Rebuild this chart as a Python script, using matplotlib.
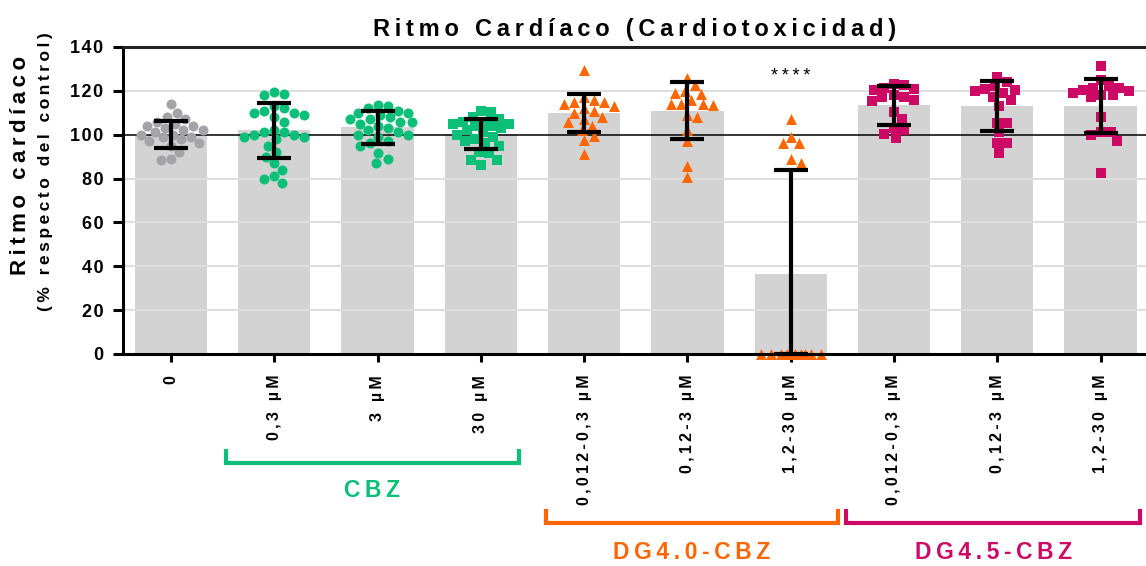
import numpy as np
import matplotlib
matplotlib.use("Agg")
import matplotlib.pyplot as plt
from matplotlib import transforms

plt.rcParams['font.family'] = ['Liberation Sans', 'DejaVu Sans']
plt.rcParams['font.weight'] = 'bold'

# categories and tick labels
labels = ['0', '0,3 µM', '3 µM', '30 µM',
          '0,012-0,3 µM', '0,12-3 µM', '1,2-30 µM',
          '0,012-0,3 µM', '0,12-3 µM', '1,2-30 µM']

# bar = mean, err = SD (% of control)
means = [100, 102, 103.4, 100.5, 110, 111, 36.5, 113.5, 113, 113]
sds = [6.2, 12.5, 7.6, 6.8, 8.7, 13, 47.3, 8.9, 11.5, 12.2]

# individual embryos per condition
pts = [
    [114, 110, 108, 107, 106, 105, 104, 104, 103, 102, 102, 101, 100, 100,
     99, 99, 98, 97, 96, 95, 92, 89, 88.5],
    [119.5, 118.5, 118, 113, 112, 111, 110, 110, 109, 108, 106, 102, 101,
     101, 100, 100, 99, 99, 98, 95, 92, 90, 87, 84, 81, 80, 78],
    [113.5, 113, 112, 111, 110, 110, 109, 108, 107, 107, 106, 106, 105, 104,
     103, 102, 101, 100, 100, 99, 97, 96, 95, 91.5, 89, 87],
    [111, 110.5, 108, 107, 106, 106, 105, 105, 104, 104, 103, 102, 101, 100,
     99, 98, 97, 96, 95, 92, 91.5, 88.5, 88.5, 86],
    [129.5, 117, 116, 115, 115, 114, 113, 112, 111, 110, 108, 107, 106, 104,
     102, 99.5, 97.5, 91],
    [126, 122.5, 120, 119, 118.5, 116, 114, 114, 114, 113.5, 109, 108, 102,
     97, 85.5, 80.5],
    [107, 99, 96, 96, 89, 87, 0, 0, 0, 0, 0, 0, 0, 0, 0, 0],
    [123, 122.5, 121.5, 121, 120.5, 118, 117, 117, 116, 115.5, 110.5, 107,
     103, 102, 100.5, 98.5],
    [126.5, 124, 122, 121, 120.5, 120, 119, 117, 116, 113, 105.5, 105.5, 101,
     96, 96, 91.5],
    [131.5, 125, 122, 121.5, 121.5, 120.5, 120, 119, 118, 118, 117, 108, 101,
     101, 100, 97, 82.5],
]

gray, green, orange, pink = '#a3a3a8', '#0cbf78', '#ff6600', '#cc0a66'
colors = [gray, green, green, green, orange, orange, orange, pink, pink, pink]
markers = ['o', 'o', 'o', 's', '^', '^', '^', 's', 's', 's']

# compound groups: name, first and last category, colour
groups = [('CBZ', 1, 3, green), ('DG4.0-CBZ', 4, 6, orange),
          ('DG4.5-CBZ', 7, 9, pink)]
# bracket overhang (left, right) and heights in figure units
bracket_pad = [(0.47, 0.37), (0.37, 0.46), (0.46, 0.38)]
bracket_y = [0.182, 0.076, 0.076]
name_y = [0.134, 0.023, 0.023]

THIN = '\u2009'
HAIR = '\u200a'


def spaced(s, gap=THIN):
    return gap.join(s)


def swarm(ys, ax, d_px, limit_px):
    # simple beeswarm in pixel space
    to_px = ax.transData.transform
    ypx = to_px(np.column_stack([np.zeros(len(ys)), ys]))[:, 1]
    step = d_px / 5.0
    cands = [0.0]
    k = 1
    while k * step <= limit_px:
        cands += [k * step, -k * step]
        k += 1
    placed = []
    offs = np.zeros(len(ys))
    for i in np.argsort(ys)[::-1]:
        best, bestd = 0.0, -1
        for c in cands:
            dmin = min([np.hypot(c - px, ypx[i] - py) for px, py in placed],
                       default=1e9)
            if dmin >= d_px:
                best = c
                break
            if dmin > bestd:
                best, bestd = c, dmin
        placed.append((best, ypx[i]))
        offs[i] = best
    x0 = to_px((0, 0))[0]
    x1 = to_px((1, 0))[0]
    return offs / (x1 - x0)


fig = plt.figure(figsize=(11.46, 5.66), dpi=100)
ax = fig.add_axes([0.1073, 0.3746, 0.8927, 0.5424])
x = np.arange(len(labels))
ax.set_xlim(-0.465, 9.44)
ax.set_ylim(0, 140)

ax.bar(x, means, width=0.7, color='#d3d3d3', zorder=1)
for yv in range(20, 140, 20):
    if yv != 100:
        ax.axhline(yv, color='#dedede', lw=1.5, zorder=1.5)
ax.axhline(100, color='black', lw=1.1, zorder=2)

for i in range(len(labels)):
    ys = np.array(pts[i], dtype=float)
    offs = swarm(ys, ax, 10.0, 34.0)
    ms = 52 if markers[i] == 'o' else 62
    ax.scatter(x[i] + offs, ys, s=ms, marker=markers[i], color=colors[i],
               linewidths=0, zorder=3, clip_on=False)

lower = [min(m, s) for m, s in zip(means, sds)]
ax.errorbar(x, means, yerr=[lower, sds], fmt='none', ecolor='black',
            elinewidth=3, capsize=12.5, capthick=3, zorder=4, clip_on=False)

ax.text(6, 126.5, spaced('****'), ha='center', va='center', fontsize=13,
        fontweight='normal')

for side in ['left', 'bottom', 'top']:
    ax.spines[side].set_linewidth(2.2)
    ax.spines[side].set_zorder(5)
ax.spines['top'].set_color('#222222')
ax.spines['right'].set_visible(False)

ax.set_yticks(range(0, 141, 20))
ax.set_yticklabels([spaced(str(v), HAIR) for v in range(0, 141, 20)])
ax.tick_params(axis='y', length=7, width=2.2, labelsize=13, pad=7)
ax.set_xticks(x)
ax.set_xticklabels([spaced(t) for t in labels], rotation=90, fontsize=11.5)
ax.tick_params(axis='x', length=6, width=2.2, pad=9)

ax.set_title(spaced('Ritmo Cardíaco (Cardiotoxicidad)'), fontsize=17,
             fontweight='bold', pad=8)

fig.text(0.0175, 0.708, spaced('Ritmo cardíaco'), rotation=90,
         ha='center', va='center', fontsize=16)
fig.text(0.040, 0.696, spaced('(% respecto del control)'), rotation=90,
         ha='center', va='center', fontsize=12.5)

# bracket under each compound group
tr = transforms.blended_transform_factory(ax.transData, fig.transFigure)
for (name, a, b, c), (pl, pr), yb, yt in zip(groups, bracket_pad,
                                             bracket_y, name_y):
    xa, xb = a - pl, b + pr
    ax.plot([xa, xa, xb, xb], [yb + 0.021, yb, yb, yb + 0.021], color=c,
            lw=3, transform=tr, clip_on=False, solid_joinstyle='miter')
    fig.text((xa + xb) / 2, yt, spaced(name), transform=tr, ha='center',
             va='center', color=c, fontsize=16.5)

fig.savefig('out.png', dpi=100)
